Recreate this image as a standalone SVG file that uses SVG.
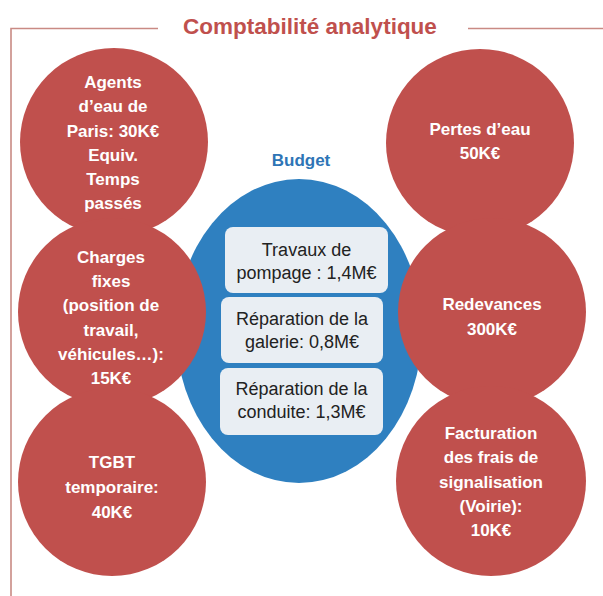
<svg xmlns="http://www.w3.org/2000/svg" width="603" height="596" viewBox="0 0 603 596">
<style>
.frame{fill:none;stroke:#c98a84;stroke-width:1.6}
.title{font-family:"Liberation Sans",Arial,sans-serif;font-weight:bold;font-size:22.5px;fill:#c0504d;text-anchor:middle}
.red{fill:#c0504d}
.rt{font-family:"Liberation Sans",Arial,sans-serif;font-weight:bold;font-size:17px;fill:#ffffff;text-anchor:middle}
.blue{fill:#2f80c0}
.bl{font-family:"Liberation Sans",Arial,sans-serif;font-weight:bold;font-size:17px;fill:#2e75b6;text-anchor:middle}
.box{fill:#e9eef3}
.bt{font-family:"Liberation Sans",Arial,sans-serif;font-size:18px;fill:#222222;text-anchor:middle}
</style>
<rect width="603" height="596" fill="#ffffff"/>
<g id="frame">
<path class="frame" d="M11,596 V28.5 H158"/>
<path class="frame" d="M468,28.5 H603"/>
<text class="title" x="310" y="34">Comptabilité analytique</text>
</g>
<g id="budget">
<text class="bl" x="301" y="166">Budget</text>
<ellipse class="blue" cx="299" cy="331" rx="123" ry="152"/>
</g>
<g id="box-travaux">
<rect class="box" x="225" y="227" width="163" height="66" rx="8"/>
<text class="bt" x="306.5" y="256">Travaux de</text>
<text class="bt" x="306.5" y="279">pompage : 1,4M€</text>
</g>
<g id="box-galerie">
<rect class="box" x="221" y="297" width="162" height="66" rx="8"/>
<text class="bt" x="302" y="325">Réparation de la</text>
<text class="bt" x="302" y="348">galerie: 0,8M€</text>
</g>
<g id="box-conduite">
<rect class="box" x="220" y="368" width="163" height="67" rx="8"/>
<text class="bt" x="301.5" y="395">Réparation de la</text>
<text class="bt" x="301.5" y="418">conduite: 1,3M€</text>
</g>
<g id="agents">
<circle class="red" cx="114" cy="142" r="94"/>
<text class="rt" x="113" y="88">Agents</text>
<text class="rt" x="113" y="112">d’eau de</text>
<text class="rt" x="113" y="137">Paris: 30K€</text>
<text class="rt" x="113" y="161">Equiv.</text>
<text class="rt" x="113" y="185">Temps</text>
<text class="rt" x="113" y="209">passés</text>
</g>
<g id="charges">
<circle class="red" cx="112" cy="312" r="94"/>
<text class="rt" x="111" y="263">Charges</text>
<text class="rt" x="111" y="287">fixes</text>
<text class="rt" x="111" y="311">(position de</text>
<text class="rt" x="111" y="336">travail,</text>
<text class="rt" x="111" y="360">véhicules…):</text>
<text class="rt" x="111" y="384">15K€</text>
</g>
<g id="tgbt">
<circle class="red" cx="112" cy="482" r="94"/>
<text class="rt" x="112" y="468">TGBT</text>
<text class="rt" x="112" y="493">temporaire:</text>
<text class="rt" x="112" y="518">40K€</text>
</g>
<g id="pertes">
<circle class="red" cx="480" cy="143" r="94"/>
<text class="rt" x="480" y="135">Pertes d’eau</text>
<text class="rt" x="480" y="159">50K€</text>
</g>
<g id="redevances">
<circle class="red" cx="492" cy="312" r="94"/>
<text class="rt" x="492" y="310">Redevances</text>
<text class="rt" x="492" y="335">300K€</text>
</g>
<g id="facturation">
<circle class="red" cx="491" cy="481" r="95"/>
<text class="rt" x="491" y="439">Facturation</text>
<text class="rt" x="491" y="463">des frais de</text>
<text class="rt" x="491" y="488">signalisation</text>
<text class="rt" x="491" y="512">(Voirie):</text>
<text class="rt" x="491" y="536">10K€</text>
</g>
</svg>
